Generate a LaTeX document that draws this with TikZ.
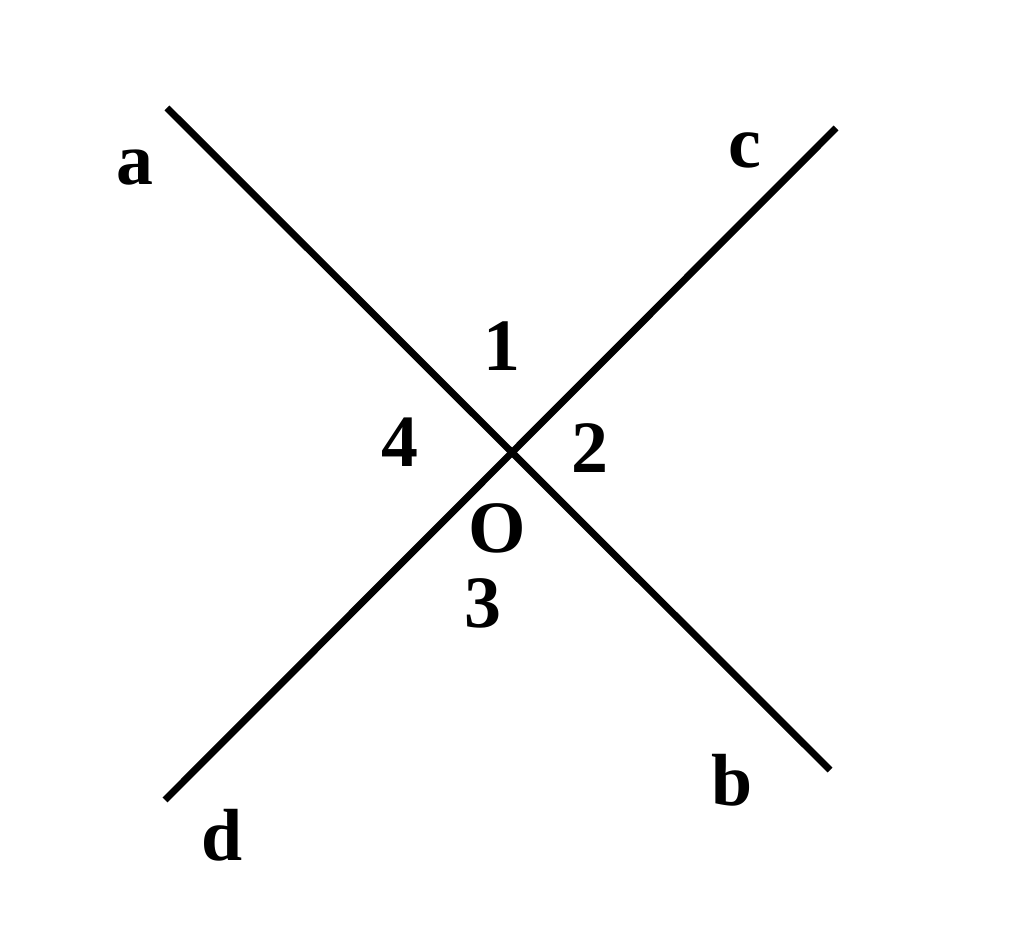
\documentclass[tikz,border=0pt]{standalone}
\usepackage{fontspec}
\setmainfont{Liberation Serif}
\begin{document}
\begin{tikzpicture}[x=0.01cm,y=-0.01cm,
  lbl/.style={font=\fontsize{21}{25}\selectfont\bfseries, inner sep=0pt},
  ln/.style={line width=2pt}]
\useasboundingbox (0,0) rectangle (1024,928);
\coordinate (A) at (167,108);
\coordinate (B) at (830,770);
\coordinate (C) at (836,128);
\coordinate (D) at (165,800);
\draw[ln] (A) -- (B);
\draw[ln] (C) -- (D);
\node[lbl] (la) at (135,168) {a};
\node[lbl] (lc) at (745,150) {c};
\node[lbl] (l1) at (502,346) {1};
\node[lbl] (l4) at (400,442) {4};
\node[lbl] (l2) at (590,448) {2};
\node[lbl] (lO) at (497,528) {O};
\node[lbl] (l3) at (483,603) {3};
\node[lbl] (lb) at (732,780) {b};
\node[lbl] (ld) at (222,835) {d};
\end{tikzpicture}
\end{document}
